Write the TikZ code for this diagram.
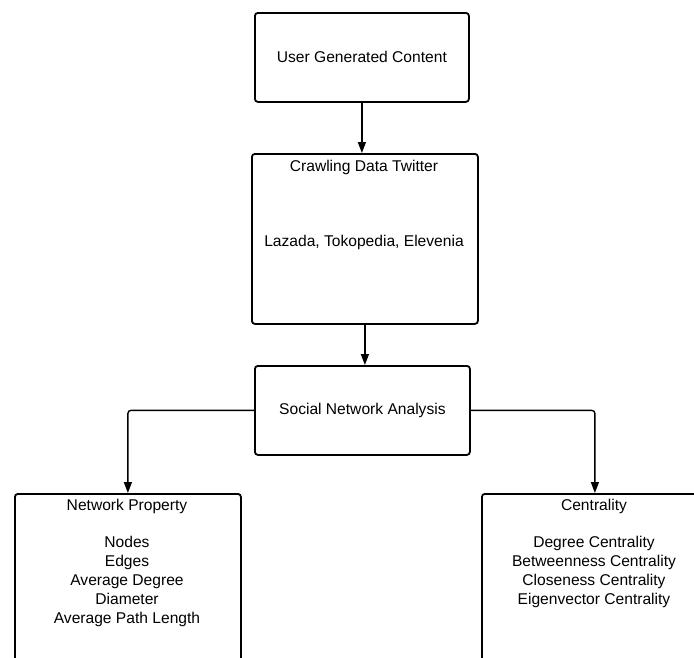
\documentclass[tikz,border=0pt]{standalone}
\usepackage{fontspec}
\setmainfont{Liberation Sans}
\usetikzlibrary{arrows.meta}
\begin{document}
\begin{tikzpicture}[x=1pt,y=-1pt,
 box/.style={draw, line width=1.8pt, rounded corners=3pt, inner sep=0pt, anchor=north west},
 txt/.style={font=\fontsize{15.6}{18.8}\selectfont, align=center, inner sep=0pt},
 arr/.style={line width=1.4pt, rounded corners=3pt, -{Triangle[length=11pt,width=8pt]}}]
\useasboundingbox (0,0) rectangle (694,657);
\clip (0,0) rectangle (694,657);
\node[box, minimum width=214pt, minimum height=89pt] (ugc) at (254,12) {};
\node[txt] (ugct) at (ugc.center) {User Generated Content};
\node[box, minimum width=226pt, minimum height=170pt] (crawl) at (251,153) {};
\node[txt] (crawlt) at (364,167) {Crawling Data Twitter};
\node[txt] (crawlb) at (364,242) {Lazada, Tokopedia, Elevenia};
\node[box, minimum width=215pt, minimum height=89pt] (sna) at (254,365) {};
\node[txt] (snat) at (sna.center) {Social Network Analysis};
\node[box, minimum width=226pt, minimum height=200pt] (np) at (14,493) {};
\node[txt] (npt) at (127,506) {Network Property};
\node[txt] (npb) at (127,581.5) {Nodes\\Edges\\Average Degree\\Diameter\\Average Path Length};
\node[box, minimum width=226pt, minimum height=200pt] (cen) at (481,493) {};
\node[txt] (cent) at (594,506) {Centrality};
\node[txt] (cenb) at (594,572) {Degree Centrality\\Betweenness Centrality\\Closeness Centrality\\Eigenvector Centrality};
\draw[arr] (ugc.south) -- (ugc.south |- crawl.north);
\draw[arr] (crawl.south) -- (crawl.south |- sna.north);
\draw[arr] (sna.west) -| (np.north);
\draw[arr] (sna.east) -| (cen.north);
\end{tikzpicture}
\end{document}
